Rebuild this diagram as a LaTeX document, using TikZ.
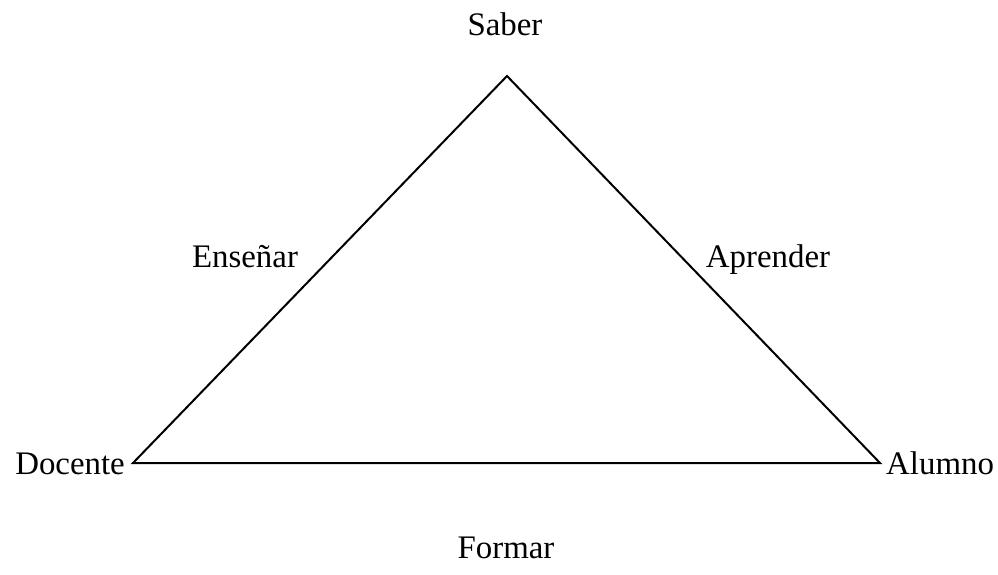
\documentclass[tikz,border=0pt]{standalone}
\usepackage{fontspec}
\setmainfont{Liberation Serif}
\begin{document}
\begin{tikzpicture}[x=1bp,y=-1bp,
  lbl/.style={font=\fontsize{33}{40}\selectfont, inner sep=0pt},
  edge/.style={line width=2bp, line join=miter}]
\useasboundingbox (0,0) rectangle (998,575);
\coordinate (S) at (507,76);
\coordinate (D) at (133,463);
\coordinate (A) at (880,463);
\draw[edge] (S) -- (A) -- (D) -- cycle;
\node[lbl, anchor=base] (saber) at (505,36) {Saber};
\node[lbl, anchor=base east] (docente) at (125,474) {Docente};
\node[lbl, anchor=base west] (alumno) at (886,474) {Alumno};
\node[lbl, anchor=base] (ensenar) at (245,268) {Enseñar};
\node[lbl, anchor=base] (aprender) at (768,268) {Aprender};
\node[lbl, anchor=base] (formar) at (506,558) {Formar};
\end{tikzpicture}
\end{document}
